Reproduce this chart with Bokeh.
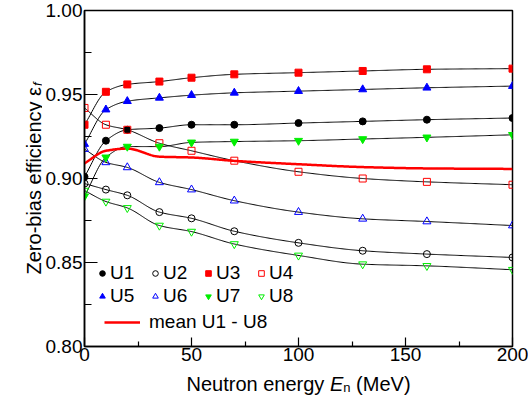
import numpy as np
from math import pi
from bokeh.plotting import figure
from bokeh.layouts import row, column
from bokeh.models import Range1d, Legend, LegendItem, Label, FixedTicker
from bokeh.embed import file_html
from bokeh.resources import INLINE

# ---------------- data ----------------
energy = [0, 10, 20, 35, 50, 70, 100, 130, 160, 200]
u1 = [0.901, 0.9225, 0.929, 0.930, 0.932, 0.932, 0.933, 0.934, 0.935, 0.936]
u2 = [0.897, 0.8934, 0.890, 0.880, 0.8763, 0.8686, 0.8617, 0.857, 0.855, 0.853]
u3 = [0.932, 0.9516, 0.956, 0.9577, 0.960, 0.962, 0.963, 0.964, 0.965, 0.9654]
u4 = [0.942, 0.932, 0.929, 0.921, 0.9165, 0.9106, 0.904, 0.900, 0.898, 0.8963]
u5 = [0.9205, 0.941, 0.946, 0.948, 0.9496, 0.951, 0.952, 0.953, 0.954, 0.955]
u6 = [0.9175, 0.9096, 0.9066, 0.8977, 0.8934, 0.8868, 0.880, 0.876, 0.8744, 0.872]
u7 = [0.8894, 0.9126, 0.919, 0.919, 0.9215, 0.922, 0.9225, 0.9235, 0.9245, 0.926]
u8 = [0.8928, 0.8863, 0.8825, 0.872, 0.8684, 0.861, 0.8542, 0.849, 0.848, 0.8457]
mean_u = [0.909, 0.9165, 0.9178, 0.913, 0.9125, 0.9105, 0.9085, 0.9068, 0.906, 0.9057]

x_ticks = [0, 50, 100, 150, 200]
x_minor = [25, 75, 125, 175]
y_ticks = [0.80, 0.85, 0.90, 0.95, 1.00]
y_minor = [0.825, 0.875, 0.925, 0.975]

FONT = "Liberation Sans"

# ---------------- layout (pixels) ----------------
TOTAL_W, TOTAL_H = 528, 397
YT_W = 42                 # strip holding the y title
PW = TOTAL_W - YT_W       # main figure width
PH = 369                  # main figure height
XT_H = TOTAL_H - PH       # strip holding the x title


def smooth(xs, ys, n=400):
    """monotone cubic (Fritsch-Carlson) rendering of a curve through the points"""
    xs = np.asarray(xs, float)
    ys = np.asarray(ys, float)
    h = np.diff(xs)
    d = np.diff(ys) / h
    m = np.zeros_like(ys)
    m[0], m[-1] = d[0], d[-1]
    for i in range(1, len(xs) - 1):
        if d[i - 1] * d[i] <= 0:
            m[i] = 0.0
        else:
            w1 = 2 * h[i] + h[i - 1]
            w2 = h[i] + 2 * h[i - 1]
            m[i] = (w1 + w2) / (w1 / d[i - 1] + w2 / d[i])
    xx = np.linspace(xs[0], xs[-1], n)
    idx = np.clip(np.searchsorted(xs, xx) - 1, 0, len(xs) - 2)
    t = (xx - xs[idx]) / h[idx]
    h00 = 2 * t**3 - 3 * t**2 + 1
    h10 = t**3 - 2 * t**2 + t
    h01 = -2 * t**3 + 3 * t**2
    h11 = t**3 - t**2
    yy = h00 * ys[idx] + h10 * h[idx] * m[idx] + h01 * ys[idx + 1] + h11 * h[idx] * m[idx + 1]
    return xx, yy


p = figure(width=PW, height=PH, x_range=Range1d(0, 200), y_range=Range1d(0.80, 1.00),
           output_backend="svg", toolbar_location=None,
           min_border_left=41, min_border_right=16, min_border_top=10, min_border_bottom=23)
p.background_fill_color = "white"
p.border_fill_color = "white"
p.xgrid.visible = False
p.ygrid.visible = False
p.outline_line_color = "black"
p.outline_line_width = 1.5
p.outline_line_alpha = 1.0

p.xaxis.ticker = FixedTicker(ticks=x_ticks, minor_ticks=x_minor)
p.yaxis.ticker = FixedTicker(ticks=y_ticks, minor_ticks=y_minor)
p.xaxis.major_label_overrides = {t: str(t) for t in x_ticks}
p.yaxis.major_label_overrides = {t: f"{t:.2f}" for t in y_ticks}
for ax in (p.xaxis, p.yaxis):
    ax.axis_line_color = "black"
    ax.axis_line_width = 1.5
    ax.major_tick_line_color = "black"
    ax.minor_tick_line_color = "black"
    ax.major_tick_line_width = 1.2
    ax.minor_tick_line_width = 1.2
    ax.major_tick_out = 0
    ax.minor_tick_out = 0
    ax.major_label_text_font = FONT
    ax.major_label_text_font_size = "19px"
    ax.major_label_text_color = "black"
p.xaxis.major_tick_in = 9
p.xaxis.minor_tick_in = 5
p.yaxis.major_tick_in = 13
p.yaxis.minor_tick_in = 7
p.xaxis.major_label_standoff = 1
p.yaxis.major_label_standoff = 2

# fitted curves
for ys in (u1, u2, u3, u4, u5, u6, u7, u8):
    cx, cy = smooth(energy, ys)
    p.line(cx, cy, line_color="black", line_width=1)

mx, my = smooth(energy, mean_u)
r_mean = p.line(mx, my, line_color="#ff0000", line_width=2.5)

specs = [
    ("U1", u1, "circle", "black", True, 7),
    ("U2", u2, "circle", "black", False, 7),
    ("U3", u3, "square", "#ff0000", True, 7),
    ("U4", u4, "square", "#ff0000", False, 7),
    ("U5", u5, "triangle", "#0000ff", True, 8),
    ("U6", u6, "triangle", "#0000ff", False, 8),
    ("U7", u7, "inverted_triangle", "#00ee00", True, 8),
    ("U8", u8, "inverted_triangle", "#00ee00", False, 8),
]
items = []
for name, ys, mk, col, filled, sz in specs:
    r = p.scatter(energy, ys, marker=mk, size=sz, line_color=col, line_width=1,
                  fill_color=col if filled else "white", fill_alpha=1.0 if filled else 0.0)
    items.append(LegendItem(label=name, renderers=[r]))

leg1 = Legend(items=items, orientation="horizontal", ncols=4,
              location=(11, 39), glyph_width=14, glyph_height=14, label_standoff=1,
              label_width=37, label_height=20, spacing=1, padding=0, margin=0,
              label_text_font=FONT, label_text_font_size="19px", label_text_color="black",
              border_line_alpha=0, background_fill_alpha=0)
leg2 = Legend(items=[LegendItem(label="mean U1 - U8", renderers=[r_mean])],
              location=(20, 13), glyph_width=36, glyph_height=14, label_standoff=9,
              label_height=20, spacing=0, padding=0, margin=0,
              label_text_font=FONT, label_text_font_size="19px", label_text_color="black",
              border_line_alpha=0, background_fill_alpha=0)
p.add_layout(leg1, "center")
p.add_layout(leg2, "center")


def strip(w, h):
    f = figure(width=w, height=h, x_range=Range1d(0, w), y_range=Range1d(0, h),
               output_backend="svg", toolbar_location=None,
               x_axis_location=None, y_axis_location=None, min_border=0)
    f.grid.visible = False
    f.outline_line_color = None
    f.background_fill_color = "white"
    f.border_fill_color = "white"
    return f


def lab(f, text, x, y, size="20px", style="normal", angle=0.0, align="left"):
    f.add_layout(Label(x=x, y=y, text=text, angle=angle,
                       text_font=FONT, text_font_size=size, text_font_style=style,
                       text_color="black", text_align=align, text_baseline="alphabetic"))


# x title strip: "Neutron energy E_n (MeV)"
xt = strip(TOTAL_W, XT_H)
x0 = 186
lab(xt, "Neutron energy", x0, 14)
lab(xt, "E", x0 + 143.4, 14, style="italic")
lab(xt, "n", x0 + 156.7, 10, size="13px")
lab(xt, "(MeV)", x0 + 169.6, 14)

# y title strip: "Zero-bias efficiency ε_f" (rotated, ending just below the subscript)
yt = strip(YT_W, PH)
lab(yt, "Zero-bias efficiency ε", 33, PH - 84, angle=pi / 2, align="right")
lab(yt, "f", 36.5, PH - 83, size="13px", style="italic", angle=pi / 2)

layout = column(row(yt, p), xt)
open("out.html", "w").write(file_html(layout, INLINE))
